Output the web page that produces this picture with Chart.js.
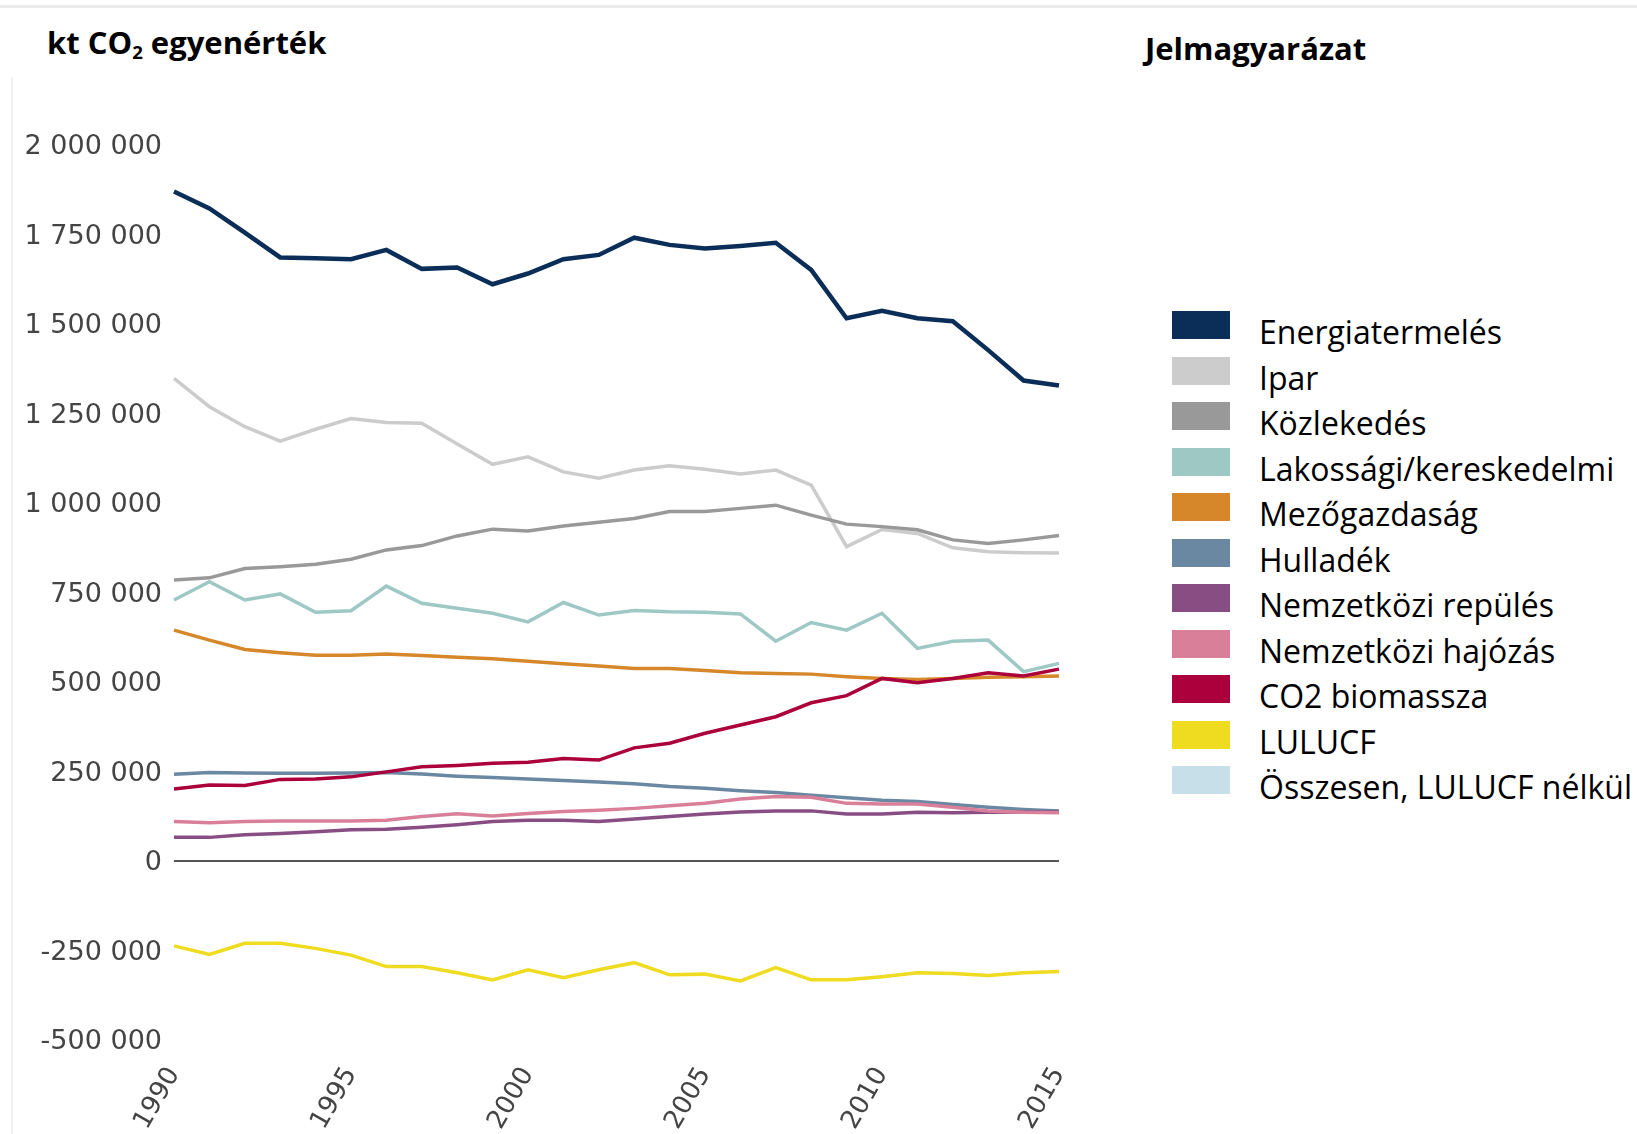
<!DOCTYPE html>
<html>
<head>
<meta charset="utf-8">
<script src="https://cdn.jsdelivr.net/npm/chart.js@4.4.1/dist/chart.umd.min.js"></script>
<style>
  body { margin: 0; background: #fff; width: 1637px; height: 1134px; overflow: hidden; position: relative; font-family: "Open Sans", sans-serif; }
  .topband { position: absolute; left: 0; top: 5px; width: 1637px; height: 3px; background: #ececec; }
  .leftline { position: absolute; left: 11px; top: 77px; width: 2px; height: 1057px; background: #f1f1f1; }
  .title { position: absolute; font-weight: bold; font-size: 31px; line-height: 36px; color: #000; white-space: nowrap; }
  .title sub { font-size: 60%; vertical-align: -5px; line-height: 0; }
  #chartBox { position: absolute; left: 0; top: 0; width: 1100px; height: 1134px; }
  .swatch { position: absolute; left: 1172px; width: 58px; height: 28px; }
  .item { position: absolute; left: 1259px; font-size: 32px; line-height: 28px; color: #000; white-space: nowrap; }
</style>
</head>
<body>
<div class="topband"></div>
<div class="leftline"></div>
<div class="title" style="left:47px; top:24px;">kt CO<sub>2</sub> egyenérték</div>
<div class="title" style="left:1145px; top:30px;">Jelmagyarázat</div>
<div id="legend"></div>
<div id="chartBox"><canvas id="myChart"></canvas></div>

<script>
let years = [1990, 1991, 1992, 1993, 1994, 1995, 1996, 1997, 1998, 1999, 2000, 2001, 2002,
             2003, 2004, 2005, 2006, 2007, 2008, 2009, 2010, 2011, 2012, 2013, 2014, 2015];

let energia = [1870000, 1823000, 1755000, 1686000, 1684000, 1681000, 1707000, 1654000, 1658000, 1611000, 1641000, 1681000, 1693000,
               1741000, 1721000, 1711000, 1718000, 1727000, 1651000, 1516000, 1537000, 1516000, 1508000, 1427000, 1342000, 1328000];
let ipar = [1348000, 1269000, 1213000, 1173000, 1206000, 1236000, 1225000, 1223000, 1165000, 1108000, 1129000, 1087000, 1069000,
            1092000, 1104000, 1094000, 1081000, 1092000, 1050000, 878000, 926000, 915000, 875000, 864000, 861000, 860000];
let kozlekedes = [785000, 791000, 817000, 822000, 829000, 843000, 869000, 881000, 908000, 927000, 922000, 936000, 946000,
                  957000, 976000, 976000, 985000, 994000, 966000, 941000, 934000, 925000, 897000, 887000, 897000, 909000];
let lakossagi = [729000, 780000, 729000, 746000, 695000, 699000, 768000, 720000, 706000, 692000, 668000, 722000, 687000,
                 700000, 696000, 695000, 690000, 614000, 666000, 645000, 692000, 594000, 614000, 617000, 529000, 552000];
let mezogazdasag = [645000, 617000, 591000, 582000, 575000, 575000, 578000, 574000, 569000, 565000, 558000, 551000, 545000,
                    538000, 538000, 532000, 526000, 524000, 522000, 515000, 510000, 507000, 510000, 513000, 515000, 517000];
let hulladek = [242000, 247000, 246000, 245000, 245000, 246000, 247000, 243000, 237000, 233000, 229000, 225000, 221000,
                216000, 208000, 203000, 196000, 191000, 184000, 177000, 170000, 166000, 158000, 150000, 144000, 140000];
let repules = [66000, 66000, 73000, 77000, 82000, 87000, 89000, 94000, 101000, 110000, 114000, 114000, 110000,
               117000, 124000, 131000, 137000, 140000, 140000, 131000, 131000, 136000, 135000, 136000, 137000, 137000];
let hajozas = [110000, 107000, 110000, 112000, 112000, 112000, 114000, 124000, 132000, 126000, 133000, 138000, 142000,
               147000, 154000, 161000, 173000, 180000, 178000, 161000, 159000, 159000, 150000, 140000, 136000, 135000];
let biomassza = [201000, 212000, 211000, 228000, 229000, 235000, 249000, 263000, 267000, 273000, 276000, 286000, 282000,
                 316000, 329000, 357000, 380000, 403000, 442000, 462000, 510000, 498000, 510000, 526000, 517000, 536000];
let lulucf = [-237000, -261000, -230000, -230000, -244000, -263000, -295000, -295000, -312000, -332000, -304000, -326000, -304000,
              -284000, -318000, -316000, -335000, -298000, -332000, -332000, -323000, -312000, -314000, -320000, -312000, -309000];

let seriesNames = ["Energiatermelés", "Ipar", "Közlekedés", "Lakossági/kereskedelmi", "Mezőgazdaság", "Hulladék",
                   "Nemzetközi repülés", "Nemzetközi hajózás", "CO2 biomassza", "LULUCF", "Összesen, LULUCF nélkül"];
let seriesColors = ["#0b2e59", "#cccccc", "#999999", "#9dc8c4", "#d6872a", "#6b88a2",
                    "#884e84", "#d97f9a", "#ab003b", "#efdb1f", "#c6dfe8"];
// the total is off the scale, it only shows up in the legend
let seriesData = [energia, ipar, kozlekedes, lakossagi, mezogazdasag, hulladek,
                  repules, hajozas, biomassza, lulucf, null];

let yTicks = [-500000, -250000, 0, 250000, 500000, 750000, 1000000, 1250000, 1500000, 1750000, 2000000];

function spaced(v) {
    return String(v).replace(/\B(?=(\d{3})+(?!\d))/g, " ");
}

// legend on the right
let legend = document.getElementById("legend");
for (let i = 0; i < seriesNames.length; i++) {
    let top = 311 + i * 45.5;
    let sw = document.createElement("div");
    sw.className = "swatch";
    sw.style.top = top + "px";
    sw.style.background = seriesColors[i];
    legend.appendChild(sw);
    let tx = document.createElement("div");
    tx.className = "item";
    tx.style.top = (top + 7) + "px";
    tx.textContent = seriesNames[i];
    legend.appendChild(tx);
}

let datasets = [];
for (let i = 0; i < seriesData.length; i++) {
    if (!seriesData[i]) continue;
    datasets.push({
        label: seriesNames[i],
        data: seriesData[i],
        borderColor: seriesColors[i],
        backgroundColor: seriesColors[i],
        borderWidth: i === 0 ? 4.5 : 3.5,
        pointRadius: 0,
        tension: 0,
        fill: false,
        order: seriesNames.length - i
    });
}

const ctx = document.getElementById("myChart");
const myChart = new Chart(ctx, {
    type: "line",
    data: {
        labels: years,
        datasets: datasets
    },
    options: {
        responsive: true,
        maintainAspectRatio: false,
        animation: false,
        layout: { padding: { top: 145, right: 38, bottom: 0, left: 0 } },
        plugins: {
            legend: { display: false },
            tooltip: { enabled: false }
        },
        scales: {
            x: {
                grid: { display: false },
                border: { display: false },
                ticks: {
                    autoSkip: false,
                    maxRotation: 60,
                    minRotation: 60,
                    padding: 14,
                    color: "#444",
                    font: { family: "DejaVu Sans", size: 26 },
                    callback: function(v, i) {
                        return years[i] % 5 === 0 ? String(years[i]) : "";
                    }
                },
                afterFit: function(scale) { scale.height = 94; }
            },
            y: {
                min: -500000,
                max: 2000000,
                afterBuildTicks: function(scale) {
                    scale.ticks = yTicks.map(v => ({ value: v }));
                },
                grid: {
                    drawTicks: false,
                    lineWidth: 2,
                    color: function(c) {
                        return c.tick && c.tick.value === 0 ? "#555555" : "rgba(0,0,0,0)";
                    }
                },
                border: { display: false },
                ticks: {
                    padding: 12,
                    labelOffset: 2,
                    color: "#444",
                    font: { family: "DejaVu Sans", size: 27 },
                    callback: function(v) { return spaced(v); }
                },
                afterFit: function(scale) { scale.width = 174; }
            }
        }
    }
});
</script>
</body>
</html>
